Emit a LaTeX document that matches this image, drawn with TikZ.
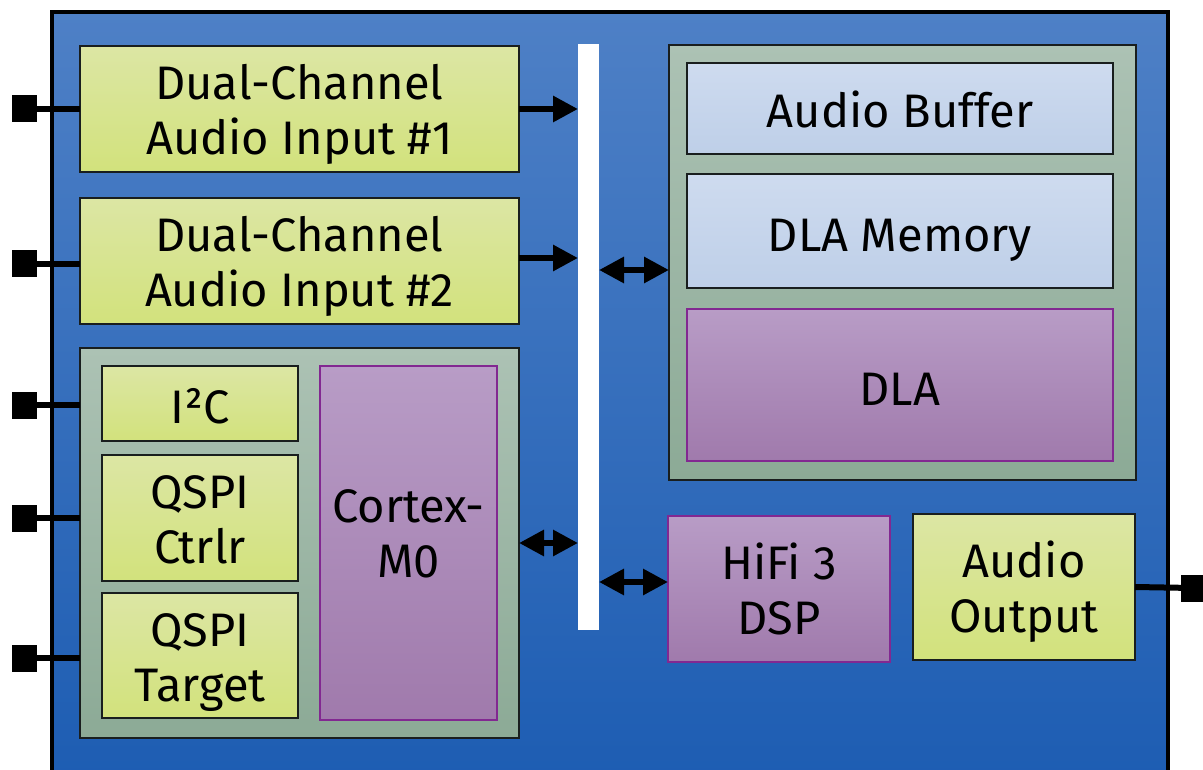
\documentclass[tikz,border=0pt]{standalone}
\usepackage{fontspec}
\setmainfont{Fira Sans}
\usetikzlibrary{arrows.meta}

\definecolor{bgtop}{RGB}{78,128,198}
\definecolor{bgbot}{RGB}{28,92,178}
\definecolor{gtop}{RGB}{220,230,164}
\definecolor{gbot}{RGB}{210,226,124}
\definecolor{sgtop}{RGB}{172,194,180}
\definecolor{sgbot}{RGB}{140,170,150}
\definecolor{btop}{RGB}{206,219,239}
\definecolor{bbot}{RGB}{190,207,232}
\definecolor{ptop}{RGB}{184,156,198}
\definecolor{pbot}{RGB}{160,122,172}
\definecolor{pline}{RGB}{130,40,145}
\definecolor{dline}{RGB}{25,30,30}

\newcommand\blockfont{\fontsize{47}{55}\selectfont}
% two centred lines, baseline on the first one
\newcommand\twolines[2]{\begin{tabular}[t]{@{}c@{}}#1\\#2\end{tabular}}

\tikzset{
  % place a rectangle node by its corners: span={x1,y1,x2,y2}
  span/.code args={#1,#2,#3,#4}{%
    \pgfmathsetmacro\spancx{(#1+#3)/2}%
    \pgfmathsetmacro\spancy{(#2+#4)/2}%
    \pgfmathsetmacro\spanw{abs(#3-#1)}%
    \pgfmathsetmacro\spanh{abs(#4-#2)}%
    \edef\spanset{\noexpand\pgfkeysalso{at={(\spancx,\spancy)},
      minimum width=\spanw pt, minimum height=\spanh pt}}%
    \spanset},
  oneline/.style={text height=39pt, text depth=0pt},
  twoline/.style={text height=30pt, text depth=49pt},
  blk/.style={draw=dline, line width=1.6pt, inner sep=0pt, outer sep=0pt, font=\blockfont},
  greenbox/.style={blk, top color=gtop, bottom color=gbot},
  groupbox/.style={blk, top color=sgtop, bottom color=sgbot},
  membox/.style={blk, top color=btop, bottom color=bbot},
  purplebox/.style={blk, draw=pline, line width=1.3pt, top color=ptop, bottom color=pbot},
  busbar/.style={fill=white, inner sep=0pt, outer sep=0pt},
  port/.style={fill=black, minimum width=25pt, minimum height=27pt, inner sep=0pt},
  wire/.style={line width=6pt},
  arr/.style={line width=6pt, -{Triangle[length=25pt,width=25pt]}},
  dblarr/.style={line width=6pt, {Triangle[length=25pt,width=25pt]}-{Triangle[length=25pt,width=25pt]}},
}

\begin{document}
\begin{tikzpicture}[x=1pt,y=-1pt]
\useasboundingbox (0,0) rectangle (1203,770);

% chip outline
\path[top color=bgtop, bottom color=bgbot, draw=black, line width=4pt]
  (52,12) rectangle (1168,800);

% input blocks
\node[greenbox, twoline, span={80,46,519,172}] (in1) {\twolines{Dual-Channel}{Audio Input \#1}};
\node[greenbox, twoline, span={80,198,519,324}] (in2) {\twolines{Dual-Channel}{Audio Input \#2}};

% control subsystem
\node[groupbox, span={80,348,519,738}] (ctrl) {};
\node[greenbox, oneline, span={102,366,298,441}] (i2c) {I²C};
\node[greenbox, twoline, span={102,455,298,581}] (qctl) {\twolines{QSPI}{Ctrlr}};
\node[greenbox, twoline, span={102,593,298,718}] (qtgt) {\twolines{QSPI}{Target}};
\node[purplebox, twoline, text depth=72pt, span={320,366,497,720}] (cpu) {\twolines{Cortex-}{M0}};

% interconnect
\node[busbar, span={578,44,599,630}] (bus) {};

% accelerator subsystem
\node[groupbox, span={669,45,1136,480}] (acc) {};
\node[membox, oneline, span={687,63,1113,154}] (abuf) {Audio Buffer};
\node[membox, oneline, text height=42pt, span={687,174,1113,288}] (dmem) {DLA Memory};
\node[purplebox, oneline, text height=40pt, span={687,309,1113,461}] (dla) {DLA};

% DSP and output
\node[purplebox, twoline, span={668,516,890,662}] (dsp) {\twolines{HiFi 3}{DSP}};
\node[greenbox, twoline, span={913,514,1135,660}] (aout) {\twolines{Audio}{Output}};

% external pins
\coordinate (p1) at (24.5,109);
\coordinate (p2) at (24.5,264);
\coordinate (p3) at (24.5,405);
\coordinate (p4) at (24.5,518);
\coordinate (p5) at (24.5,658);
\coordinate (p6) at (1193,588);

\coordinate (yacc) at (0,270);
\coordinate (ydsp) at (0,582);
\coordinate (yin2) at (0,258);

\draw[wire] (p1) -- (p1 -| in1.west);
\draw[wire] (p2) -- (p2 -| in2.west);
\draw[wire] (p3) -- (p3 -| ctrl.west);
\draw[wire] (p4) -- (p4 -| ctrl.west);
\draw[wire] (p5) -- (p5 -| ctrl.west);
\draw[wire] (aout.east) -- (p6);
\node[port] (pin1) at (p1) {};
\node[port] (pin2) at (p2) {};
\node[port] (pin3) at (p3) {};
\node[port] (pin4) at (p4) {};
\node[port] (pin5) at (p5) {};
\node[port] (pin6) at (p6) {};

% data paths
\draw[arr] (in1.east) -- (in1.east -| bus.west);
\draw[arr] (in2.east |- yin2) -- (bus.west |- yin2);
\draw[dblarr] (ctrl.east |- cpu) -- (bus.west |- cpu);
\draw[dblarr] (bus.east |- yacc) -- (acc.west |- yacc);
\draw[dblarr] (bus.east |- ydsp) -- (dsp.west |- ydsp);
\end{tikzpicture}
\end{document}
